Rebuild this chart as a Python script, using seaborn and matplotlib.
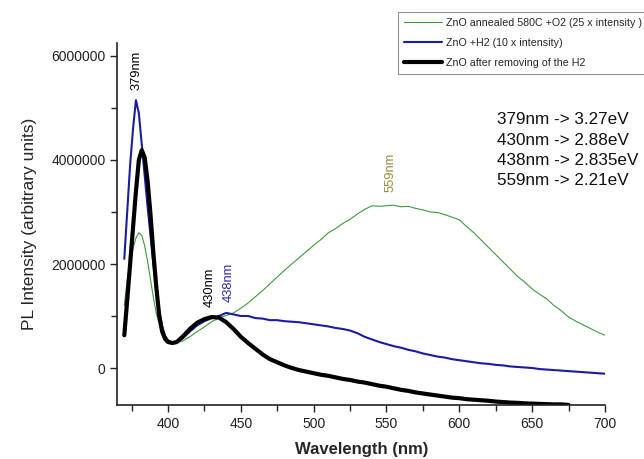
import numpy as np
import pandas as pd
import matplotlib
matplotlib.use("Agg")
import matplotlib.pyplot as plt
from matplotlib.ticker import MultipleLocator, FuncFormatter
import seaborn as sns

# Wavelength grid (nm): finer steps across the band-edge peak
wavelength = [370, 372, 374, 376, 378, 380, 382, 384, 386, 388, 390, 392, 394, 396,
              398, 400, 403, 406,
              410, 415, 420, 425, 430, 435, 440, 445, 450, 455,
              460, 465, 470, 475, 480, 485, 490, 495, 500, 505,
              510, 515, 520, 525, 530, 535, 540, 545, 550, 555,
              560, 565, 570, 575, 580, 585, 590, 595, 600, 605,
              610, 615, 620, 625, 630, 635, 640, 645, 650, 655,
              660, 665, 670, 675, 680, 685, 690, 695, 700]

# PL intensities, in millions of counts
annealed_o2 = [1.20, 1.70, 2.05, 2.30, 2.50, 2.60, 2.55, 2.35, 2.05, 1.70, 1.35, 1.05,
               0.85, 0.70, 0.60, 0.53, 0.49, 0.48,
               0.52, 0.60, 0.70, 0.79, 0.89, 0.96, 1.01, 1.06, 1.15, 1.25,
               1.37, 1.49, 1.62, 1.75, 1.88, 2.00, 2.12, 2.24, 2.36, 2.47,
               2.60, 2.68, 2.78, 2.86, 2.96, 3.05, 3.12, 3.11, 3.12, 3.13,
               3.10, 3.11, 3.07, 3.04, 3.00, 2.99, 2.95, 2.90, 2.85, 2.72,
               2.60, 2.46, 2.32, 2.18, 2.04, 1.90, 1.76, 1.65, 1.52, 1.42,
               1.33, 1.20, 1.10, 0.98, 0.90, 0.83, 0.76, 0.69, 0.63]

with_h2 = [2.10, 3.00, 3.90, 4.60, 5.15, 4.90, 4.30, 3.70, 3.10, 2.55, 2.00, 1.50,
           1.10, 0.80, 0.62, 0.53, 0.49, 0.50,
           0.57, 0.70, 0.82, 0.90, 0.96, 1.00, 1.06, 1.03, 1.00, 1.00,
           0.96, 0.95, 0.92, 0.92, 0.90, 0.89, 0.88, 0.86, 0.84, 0.82,
           0.80, 0.77, 0.75, 0.72, 0.67, 0.60, 0.55, 0.50, 0.46, 0.42,
           0.39, 0.35, 0.32, 0.28, 0.25, 0.22, 0.20, 0.17, 0.15, 0.13,
           0.11, 0.09, 0.08, 0.06, 0.05, 0.03, 0.02, 0.01, 0.00, -0.02,
           -0.03, -0.04, -0.05, -0.06, -0.07, -0.08, -0.09, -0.10, -0.11]

h2_removed = [0.63, 1.30, 2.00, 2.70, 3.40, 4.00, 4.19, 4.05, 3.60, 2.95, 2.20, 1.55,
              1.00, 0.70, 0.56, 0.50, 0.48, 0.50,
              0.60, 0.75, 0.87, 0.94, 0.98, 0.97, 0.88, 0.75, 0.60, 0.48,
              0.37, 0.26, 0.17, 0.11, 0.05, 0.00, -0.04, -0.07, -0.10, -0.13,
              -0.15, -0.18, -0.21, -0.23, -0.26, -0.28, -0.31, -0.34, -0.36, -0.39,
              -0.42, -0.44, -0.47, -0.49, -0.51, -0.53, -0.55, -0.57, -0.58, -0.60,
              -0.61, -0.62, -0.63, -0.645, -0.655, -0.665, -0.67, -0.68, -0.685, -0.69,
              -0.695, -0.70, -0.70, -0.71, np.nan, np.nan, np.nan, np.nan, np.nan]

series_names = ["ZnO annealed 580C +O2 (25 x intensity )",
                "ZnO +H2 (10 x intensity)",
                "ZnO after removing of the H2"]
series_colors = ["#3f9a3f", "#1c1ca0", "#000000"]
series_widths = [0.8, 1.5, 3.0]

peak_labels = ["379nm", "430nm", "438nm", "559nm"]
peak_label_x = [378.7, 428.3, 441.4, 552.8]
peak_label_y = [5.35, 1.18, 1.26, 3.39]
peak_label_colors = ["black", "black", "#2a2ab0", "#9c8c3c"]

energy_lines = ["379nm -> 3.27eV", "430nm -> 2.88eV", "438nm -> 2.835eV", "559nm -> 2.21eV"]

sns.set_theme(style="ticks")
plt.rcParams["font.family"] = ["Liberation Sans", "DejaVu Sans"]

df = pd.DataFrame({
    "wavelength": wavelength,
    series_names[0]: np.array(annealed_o2) * 1e6,
    series_names[1]: np.array(with_h2) * 1e6,
    series_names[2]: np.array(h2_removed) * 1e6,
})

fig = plt.figure(figsize=(6.44, 4.59), dpi=100)
ax = fig.add_axes([0.18245, 0.11765, 0.75699, 0.78867])

for name, color, lw in zip(series_names, series_colors, series_widths):
    sns.lineplot(data=df, x="wavelength", y=name, ax=ax, color=color,
                 linewidth=lw, label=name)

ax.set_xlim(365.34, 700)
ax.set_ylim(-711500, 6250000)
ax.xaxis.set_major_locator(MultipleLocator(50))
ax.xaxis.set_minor_locator(MultipleLocator(25))
ax.yaxis.set_major_locator(MultipleLocator(2000000))
ax.yaxis.set_minor_locator(MultipleLocator(1000000))
ax.yaxis.set_major_formatter(FuncFormatter(lambda v, p: f"{int(round(v))}"))
ax.tick_params(axis="both", which="major", length=5, width=1, labelsize=10,
               colors="#222222", direction="out")
ax.tick_params(axis="both", which="minor", length=4, width=1, direction="out",
               colors="#222222")
for side in ("left", "bottom"):
    ax.spines[side].set_color("#222222")
    ax.spines[side].set_linewidth(1.2)
sns.despine(ax=ax)

ax.set_xlabel("Wavelength (nm)", fontsize=12, fontweight="bold", labelpad=8)
ax.set_ylabel("PL Intensity (arbitrary units)", fontsize=12.5, labelpad=10)

# Peak position annotations
for text, px, py, c in zip(peak_labels, peak_label_x, peak_label_y, peak_label_colors):
    ax.text(px, py * 1e6, text, rotation=90, fontsize=9.3, color=c,
            ha="center", va="bottom")

# Wavelength-to-energy conversions
for i, line in enumerate(energy_lines):
    fig.text(497 / 644, 1 - (120 + 20.3 * i) / 459, line, fontsize=12.3,
             ha="left", va="center", color="#111111")

leg = ax.legend(loc="upper left", bbox_to_anchor=(398 / 644, 1 - 12 / 459),
                bbox_transform=fig.transFigure, fontsize=7.7, frameon=True,
                fancybox=False, edgecolor="#777777", handlelength=3.6,
                handletextpad=0.3, borderpad=0.55, labelspacing=0.95,
                borderaxespad=0)
leg.get_frame().set_linewidth(0.8)

fig.savefig("out.png", dpi=100)
